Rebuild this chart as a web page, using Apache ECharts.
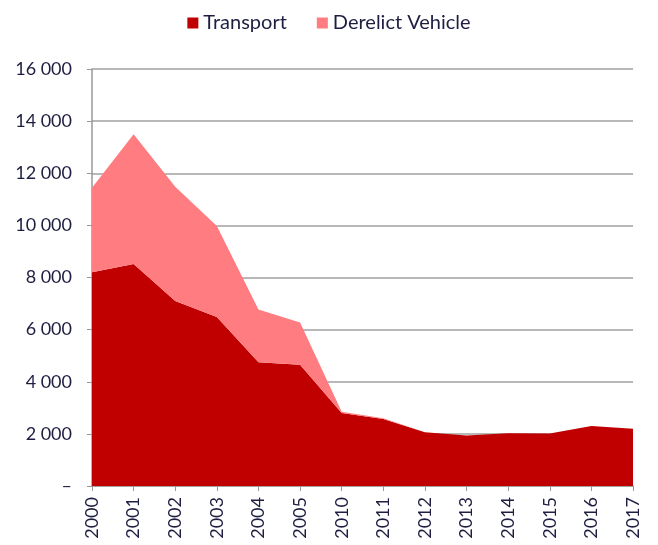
<!DOCTYPE html>
<html>
<head>
<meta charset="utf-8">
<script src="https://cdn.jsdelivr.net/npm/echarts@6/dist/echarts.min.js"></script>
<style>
  html, body { margin: 0; padding: 0; background: #fff; }
  #chart { width: 658px; height: 545px; }
</style>
</head>
<body>
<div id="chart"></div>
<script>
let years = ['2000', '2001', '2002', '2003', '2004', '2005', '2010', '2011', '2012', '2013', '2014', '2015', '2016', '2017'];
let transport = [8200, 8520, 7100, 6480, 4750, 4650, 2800, 2570, 2060, 1940, 2020, 2010, 2300, 2200];
let derelict = [3240, 4980, 4380, 3500, 2020, 1620, 50, 30, 0, 0, 0, 0, 0, 0];

let textColor = '#1e1e42';
let labelFont = 'Lato, "Open Sans", sans-serif';

function formatThousands(v) {
  if (v === 0) return '–';
  let s = String(v);
  return s.replace(/\B(?=(\d{3})+(?!\d))/g, ' ');
}

let chart = echarts.init(document.getElementById('chart'));

let option = {
  animation: false,
  legend: {
    top: 8,
    left: 'center',
    itemWidth: 11,
    itemHeight: 11,
    itemGap: 30,
    icon: 'rect',
    textStyle: { color: textColor, fontSize: 20, fontFamily: labelFont },
    data: ['Transport', 'Derelict Vehicle']
  },
  grid: {
    left: 92,
    right: 25,
    top: 69,
    bottom: 59
  },
  xAxis: {
    type: 'category',
    data: years,
    boundaryGap: false,
    axisLine: { lineStyle: { color: '#999', width: 1.5 } },
    axisTick: { show: true, length: 5, alignWithLabel: true, lineStyle: { color: '#999' } },
    axisLabel: {
      rotate: 90,
      margin: 11,
      interval: 0,
      color: textColor,
      fontSize: 18,
      fontFamily: labelFont
    }
  },
  yAxis: {
    type: 'value',
    min: 0,
    max: 16000,
    interval: 2000,
    axisLine: { show: true, lineStyle: { color: '#999', width: 1.5 } },
    axisTick: { show: true, length: 5, lineStyle: { color: '#999' } },
    splitLine: { lineStyle: { color: '#a0a0a0', width: 1.5 } },
    axisLabel: {
      margin: 20,
      color: textColor,
      fontSize: 18,
      fontFamily: labelFont,
      formatter: formatThousands
    }
  },
  series: [
    {
      name: 'Transport',
      type: 'line',
      stack: 'total',
      data: transport,
      symbol: 'none',
      lineStyle: { width: 0 },
      itemStyle: { color: '#C00000' },
      areaStyle: { color: '#C00000', opacity: 1 }
    },
    {
      name: 'Derelict Vehicle',
      type: 'line',
      stack: 'total',
      data: derelict,
      symbol: 'none',
      lineStyle: { width: 0 },
      itemStyle: { color: '#FF7C80' },
      areaStyle: { color: '#FF7C80', opacity: 1 }
    }
  ]
};

chart.setOption(option);
</script>
</body>
</html>
